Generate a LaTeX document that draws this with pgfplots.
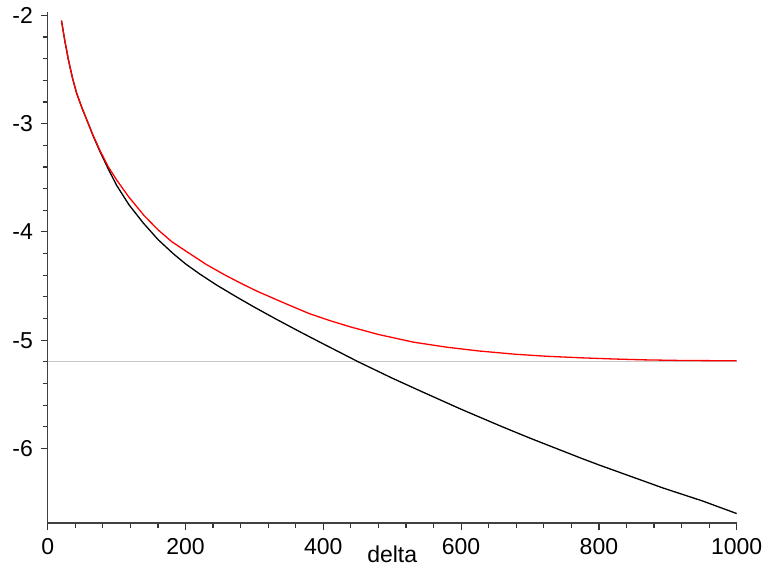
\documentclass[border=0pt]{standalone}
\usepackage{pgfplots}
\pgfplotsset{compat=1.18}
\usepackage{fontspec}
\setmainfont{Liberation Sans}
\begin{document}
\fontsize{23bp}{27bp}\selectfont
\begin{tikzpicture}
\begin{axis}[
  scale only axis,
  width=689bp, height=511.3bp,
  xmin=0, xmax=1000, ymin=-6.69, ymax=-1.97,
  axis lines=left,
  axis line style={-, line width=1.6bp, black!75},
  xtick={0,200,400,600,800,1000},
  ytick={-6,-5,-4,-3,-2},
  minor tick num=4,
  tick align=outside,
  major tick length=7bp, minor tick length=5bp,
  tick style={line width=1.2bp, black!80},
  /pgf/number format/assume math mode=true,
  /pgf/number format/1000 sep={},
  ticklabel style={font=\fontsize{23bp}{27bp}\selectfont},
  yticklabel style={/pgf/number format/fixed},
  xlabel={delta},
  xlabel style={at={(axis description cs:0.5,0)}, anchor=north, yshift=-22bp, inner sep=0pt},
  clip=false,
]
\addplot[gray!45, line width=1.1bp] coordinates {(0,-5.20) (1000,-5.20)};
\addplot[black, line width=1.3bp] coordinates {
(20,-2.05) (25,-2.24) (30,-2.41) (36,-2.58) (42,-2.72) (50,-2.86) (57,-2.97)
(66,-3.115) (76,-3.26) (88,-3.42) (100,-3.57) (118,-3.75) (139,-3.92)
(160,-4.07) (182,-4.20) (200,-4.295) (221,-4.39) (245,-4.49) (274,-4.60)
(300,-4.695) (330,-4.80) (366,-4.922) (400,-5.034) (451,-5.20) (500,-5.35)
(540,-5.466) (600,-5.637) (659,-5.797) (700,-5.904) (777,-6.096) (800,-6.151)
(893,-6.364) (950,-6.483) (1000,-6.60)
};
\addplot[red, line width=1.3bp] coordinates {
(20,-2.05) (25,-2.24) (30,-2.41) (36,-2.58) (42,-2.72) (50,-2.86) (57,-2.97)
(66,-3.11) (76,-3.25) (88,-3.40) (100,-3.52) (118,-3.68) (140,-3.85)
(160,-3.98) (180,-4.09) (206,-4.20) (230,-4.30) (255,-4.39) (279,-4.47)
(303,-4.545) (330,-4.62) (350,-4.675) (380,-4.755) (410,-4.82) (440,-4.878)
(480,-4.947) (531,-5.018) (580,-5.065) (627,-5.10) (680,-5.13) (724,-5.148)
(773,-5.162) (820,-5.173) (864,-5.181) (920,-5.187) (1000,-5.19)
};
\end{axis}
\pgfresetboundingbox
\path (-47.7bp,-47.7bp) rectangle (717.3bp,523.3bp);
\end{tikzpicture}
\end{document}
